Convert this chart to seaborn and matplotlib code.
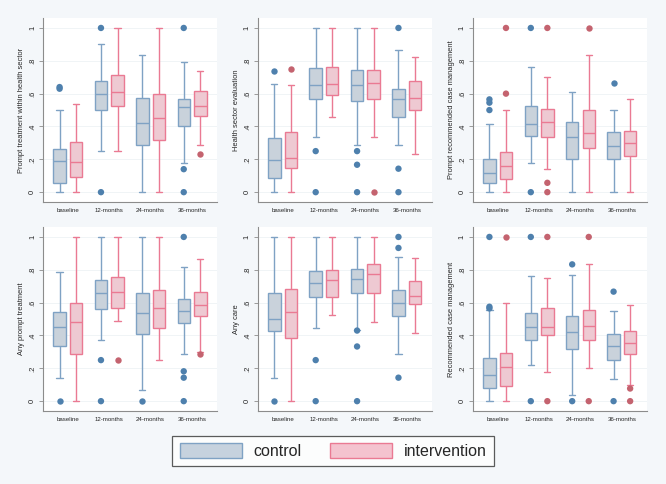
import numpy as np
import pandas as pd
import seaborn as sns
import matplotlib.pyplot as plt
from matplotlib.patches import Patch

waves = ["baseline", "12-months", "24-months", "36-months"]
arms = ["control", "intervention"]

titles = ["Prompt treatment within health sector", "Health sector evaluation",
          "Prompt recommended case management", "Any prompt treatment",
          "Any care", "Recommended case management"]

# box stats per wave: [whisker low, q1, median, q3, whisker high]
ptwhs_control = [[0, .055, .19, .265, .50], [.25, .50, .595, .675, .90],
                 [0, .285, .42, .575, .835], [.18, .40, .52, .57, .795]]
ptwhs_interv = [[0, .09, .185, .305, .535], [.25, .525, .61, .715, 1.0],
                [0, .32, .45, .595, 1.0], [.285, .465, .525, .615, .735]]
hse_control = [[0, .085, .195, .33, .66], [.333, .57, .655, .755, 1.0],
               [.285, .555, .655, .745, 1.0], [.285, .46, .57, .63, .865]]
hse_interv = [[0, .145, .21, .365, .65], [.455, .59, .66, .765, 1.0],
              [.333, .57, .667, .745, 1.0], [.235, .50, .575, .68, .825]]
prcm_control = [[0, .055, .115, .205, .415], [.18, .345, .415, .525, .765],
                [0, .205, .333, .425, .61], [0, .205, .28, .365, .50]]
prcm_interv = [[0, .08, .16, .245, .50], [.14, .333, .425, .505, .70],
               [0, .27, .36, .50, .833], [0, .22, .30, .375, .57]]
apt_control = [[.143, .333, .45, .545, .785], [.37, .56, .66, .735, 1.0],
               [.07, .41, .535, .66, 1.0], [.285, .475, .55, .625, .815]]
apt_interv = [[0, .29, .485, .60, 1.0], [.49, .57, .667, .755, 1.0],
              [.25, .445, .57, .675, 1.0], [.30, .52, .585, .667, .865]]
care_control = [[.143, .43, .50, .66, 1.0], [.445, .635, .72, .795, 1.0],
                [.435, .66, .745, .805, 1.0], [.285, .52, .60, .675, .88]]
care_interv = [[0, .385, .545, .68, 1.0], [.525, .635, .735, .80, 1.0],
               [.485, .66, .775, .835, 1.0], [.415, .59, .64, .73, .87]]
rcm_control = [[0, .08, .16, .265, .555], [.222, .375, .45, .535, .765],
               [.04, .32, .42, .52, .77], [.133, .25, .333, .41, .55]]
rcm_interv = [[0, .095, .205, .295, .60], [.175, .40, .45, .57, .75],
              [.20, .37, .455, .555, .833], [.10, .29, .355, .425, .585]]

# outside values per wave
ptwhs_out_c = [[.63, .64], [0, 1], [], [0, .14, 1]]
ptwhs_out_i = [[], [], [], [.235]]
hse_out_c = [[.735], [0, .25], [0, .167, .25], [0, .143, 1]]
hse_out_i = [[.75], [], [0], []]
prcm_out_c = [[.50, .545, .565], [0, 1], [], [.667]]
prcm_out_i = [[.60, 1], [0, .057, 1], [1], []]
apt_out_c = [[0], [0, .25], [0], [0, .143, .182, 1]]
apt_out_i = [[], [.25], [], [.285]]
care_out_c = [[0], [0, .25], [0, .333, .43], [.143, .933, 1]]
care_out_i = [[], [], [], []]
rcm_out_c = [[.565, .575, 1], [0, 1], [0, .833], [0, .667]]
rcm_out_i = [[1], [0, 1], [0, 1], [0, .077]]

boxes = [(ptwhs_control, ptwhs_interv), (hse_control, hse_interv),
         (prcm_control, prcm_interv), (apt_control, apt_interv),
         (care_control, care_interv), (rcm_control, rcm_interv)]
outs = [(ptwhs_out_c, ptwhs_out_i), (hse_out_c, hse_out_i),
        (prcm_out_c, prcm_out_i), (apt_out_c, apt_out_i),
        (care_out_c, care_out_i), (rcm_out_c, rcm_out_i)]

fills = {"control": "#c6d2de", "intervention": "#f4c3cf"}
edges = {"control": "#7fa2c4", "intervention": "#ea7a93"}
dots = {"control": "#4e80ad", "intervention": "#c4636f"}
bg = "#f4f7fa"


def to_long(per_arm):
    rows = []
    for arm, groups in zip(arms, per_arm):
        for wave, vals in zip(waves, groups):
            for v in vals:
                rows.append((wave, arm, v))
    return pd.DataFrame(rows, columns=["wave", "arm", "value"])


sns.set_theme(style="white")
plt.rcParams["font.family"] = ["Liberation Sans", "DejaVu Sans"]

fig = plt.figure(figsize=(6.66, 4.84), dpi=100, facecolor=bg)
lefts = [0.0646, 0.387, 0.710]
bottoms = [0.5826, 0.1508]

for k in range(6):
    ax = fig.add_axes([lefts[k % 3], bottoms[k // 3], 0.261, 0.380])
    ax.set_facecolor("white")
    box_df = to_long(boxes[k])
    out_df = to_long(outs[k])
    for arm in arms:
        sns.boxplot(data=box_df[box_df.arm == arm], x="wave", y="value", hue="arm",
                    order=waves, hue_order=arms, palette=fills, linecolor=edges[arm],
                    linewidth=1.0, width=0.8, gap=0.25, dodge=True, whis=(0, 100),
                    showfliers=False, legend=False, ax=ax)
    if len(out_df):
        sns.stripplot(data=out_df, x="wave", y="value", hue="arm", order=waves,
                      hue_order=arms, palette=dots, dodge=True, jitter=False,
                      size=4.6, linewidth=0, legend=False, ax=ax)
    ax.set_xlim(-0.6, 3.6)
    ax.set_ylim(-0.06, 1.06)
    ax.set_yticks([0, .2, .4, .6, .8, 1])
    ax.set_yticklabels(["0", ".2", ".4", ".6", ".8", "1"], rotation=90, va="center")
    ax.grid(axis="y", color="#eef2f5", linewidth=0.6)
    ax.set_axisbelow(True)
    for s in ["top", "right"]:
        ax.spines[s].set_visible(False)
    for s in ["left", "bottom"]:
        ax.spines[s].set_color("#8c8c8c")
        ax.spines[s].set_linewidth(0.8)
    ax.tick_params(axis="both", length=3, width=0.6, color="#8c8c8c", pad=2,
                   bottom=True, left=True)
    ax.tick_params(axis="x", labelsize=4.4, length=0, pad=4)
    ax.tick_params(axis="y", labelsize=5.5)
    ax.set_xlabel("")
    ax.set_ylabel(titles[k], fontsize=5.4, labelpad=3)

handles = [Patch(facecolor=fills[a], edgecolor=edges[a], linewidth=1.0, label=a) for a in arms]
leg = fig.legend(handles=handles, loc="center", bbox_to_anchor=(0.5, 0.068), ncol=2,
                 fontsize=11.5, handlelength=3.9, handleheight=1.0, columnspacing=1.8,
                 handletextpad=0.7, frameon=True, fancybox=False, borderpad=0.45)
leg.get_frame().set_edgecolor("#333333")
leg.get_frame().set_linewidth(0.9)

fig.savefig("out.png", dpi=100, facecolor=bg)
